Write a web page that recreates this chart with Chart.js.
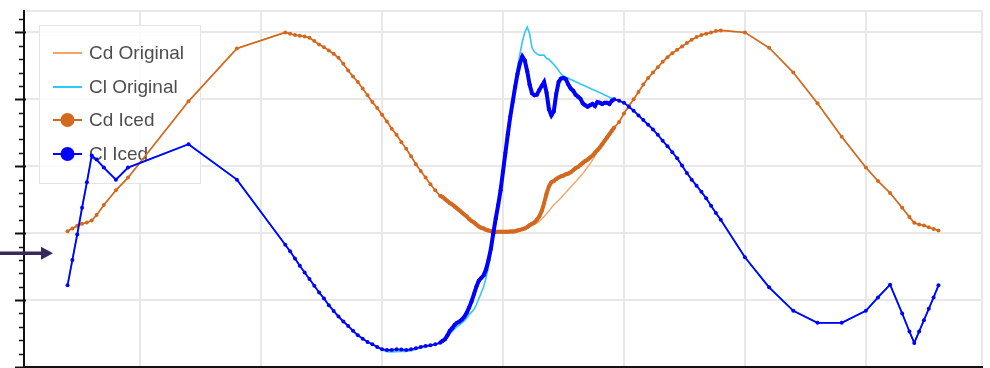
<!DOCTYPE html>
<html>
<head>
<meta charset="utf-8">
<script src="https://cdn.jsdelivr.net/npm/chart.js@4/dist/chart.umd.min.js"></script>
<style>
  html, body { margin: 0; padding: 0; background: #ffffff; }
  #wrap { width: 990px; height: 368px; position: relative; overflow: hidden; }
  #chart { display: block; }
</style>
</head>
<body>
<div id="wrap"><canvas id="chart" width="990" height="371"></canvas></div>
<script>
// Angle of attack (deg): sparse at the ends, 2-deg steps, 1-deg steps around stall
const alpha = [
  -180,-178,-176,-174,-172,-170,-168,-165,-160,-155,-130,-110,
  -90,-88,-86,-84,-82,-80,-78,-76,-74,-72,-70,-68,-66,-64,-62,-60,-58,-56,-54,-52,-50,-48,-46,-44,-42,-40,-38,-36,-34,-32,-30,-28,-26,
  -25,-24,-23,-22,-21,-20,-19,-18,-17,-16,-15,-14,-13,-12,-11,-10,-9,-8,-7,-6,-5,-4,-3,-2,-1,
  0,1,2,3,4,5,6,7,8,9,10,11,12,13,14,15,16,17,18,19,20,21,22,23,24,25,26,27,28,29,30,31,32,33,34,35,36,37,38,39,40,41,42,43,44,45,46,
  48,50,52,54,56,58,60,62,64,66,68,70,72,74,76,78,80,82,84,86,88,90,
  100,110,120,130,140,150,155,160,165,168,170,172,174,176,178,180
];

const cdOriginal = [
  0.015,0.035,0.055,0.07,0.08,0.095,0.135,0.21,0.32,0.415,0.985,1.38,
  1.50,1.49,1.48,1.475,1.47,1.46,1.435,1.41,1.39,1.365,1.34,1.31,1.265,1.215,1.17,1.13,1.08,1.03,0.98,0.935,0.885,0.835,0.78,0.735,0.68,0.63,0.575,0.515,0.465,0.415,0.365,0.32,0.28,
  0.27,0.255,0.24,0.225,0.215,0.20,0.185,0.17,0.155,0.14,0.125,0.105,0.09,0.08,0.065,0.05,0.04,0.035,0.025,0.02,0.015,0.012,0.01,0.01,0.01,
  0.01,0.01,0.01,0.012,0.013,0.015,0.02,0.025,0.03,0.035,0.04,0.048,0.056,0.065,0.075,0.088,0.105,0.125,0.145,0.165,0.19,0.21,0.228,0.245,0.265,0.285,0.305,0.325,0.345,0.365,0.385,0.405,0.425,0.445,0.47,0.495,0.52,0.545,0.575,0.61,0.64,0.665,0.69,0.715,0.74,0.765,0.79,
  0.83,0.895,0.95,1.00,1.055,1.11,1.16,1.20,1.24,1.28,1.315,1.345,1.37,1.395,1.42,1.445,1.465,1.48,1.49,1.50,1.51,1.515,
  1.50,1.385,1.20,0.97,0.72,0.49,0.39,0.30,0.19,0.12,0.077,0.065,0.058,0.045,0.032,0.02
];

const clOriginal = [
  -0.39,-0.20,-0.01,0.19,0.38,0.58,0.55,0.49,0.40,0.49,0.665,0.40,
  -0.086,-0.136,-0.189,-0.243,-0.294,-0.343,-0.393,-0.443,-0.488,-0.538,-0.581,-0.623,-0.66,-0.693,-0.73,-0.763,-0.788,-0.813,-0.83,-0.85,-0.872,-0.885,-0.888,-0.885,-0.884,-0.884,-0.878,-0.868,-0.856,-0.848,-0.842,-0.834,-0.822,
  -0.81,-0.80,-0.78,-0.755,-0.735,-0.715,-0.70,-0.685,-0.67,-0.655,-0.635,-0.61,-0.59,-0.57,-0.535,-0.49,-0.445,-0.40,-0.335,-0.25,-0.14,-0.02,0.10,0.21,0.33,
  0.48,0.63,0.77,0.90,1.02,1.13,1.24,1.34,1.43,1.50,1.54,1.49,1.385,1.355,1.34,1.33,1.33,1.33,1.305,1.30,1.28,1.26,1.24,1.215,1.19,1.175,1.165,1.157,1.148,1.14,1.132,1.124,1.115,1.107,1.099,1.09,1.082,1.074,1.066,1.058,1.05,1.042,1.033,1.025,1.016,1.008,1.0,
  0.99,0.975,0.945,0.915,0.88,0.845,0.81,0.775,0.735,0.69,0.65,0.605,0.56,0.505,0.45,0.40,0.355,0.31,0.26,0.205,0.15,0.10,
  -0.18,-0.405,-0.58,-0.67,-0.67,-0.58,-0.48,-0.385,-0.60,-0.735,-0.82,-0.735,-0.65,-0.565,-0.48,-0.39
];

const cdIced = [
  0.015,0.035,0.055,0.07,0.08,0.095,0.135,0.21,0.32,0.415,0.985,1.38,
  1.50,1.49,1.48,1.475,1.47,1.46,1.435,1.41,1.39,1.365,1.34,1.31,1.265,1.215,1.17,1.13,1.08,1.03,0.98,0.935,0.885,0.835,0.78,0.735,0.68,0.63,0.575,0.515,0.465,0.415,0.365,0.32,0.28,
  0.27,0.255,0.24,0.225,0.215,0.20,0.185,0.17,0.155,0.14,0.125,0.105,0.09,0.08,0.065,0.05,0.04,0.035,0.025,0.02,0.015,0.012,0.01,0.01,0.01,
  0.01,0.01,0.01,0.012,0.013,0.015,0.02,0.025,0.03,0.035,0.045,0.06,0.07,0.08,0.10,0.125,0.165,0.225,0.295,0.35,0.38,0.39,0.405,0.415,0.425,0.43,0.44,0.445,0.455,0.47,0.485,0.495,0.51,0.525,0.54,0.55,0.565,0.58,0.60,0.62,0.64,0.665,0.69,0.715,0.74,0.765,0.79,
  0.83,0.895,0.95,1.00,1.055,1.11,1.16,1.20,1.24,1.28,1.315,1.345,1.37,1.395,1.42,1.445,1.465,1.48,1.49,1.50,1.51,1.515,
  1.50,1.385,1.20,0.97,0.72,0.49,0.39,0.30,0.19,0.12,0.077,0.065,0.058,0.045,0.032,0.02
];

const clIced = [
  -0.39,-0.20,-0.01,0.19,0.38,0.58,0.55,0.49,0.40,0.49,0.665,0.40,
  -0.086,-0.136,-0.189,-0.243,-0.294,-0.343,-0.393,-0.443,-0.488,-0.538,-0.581,-0.623,-0.66,-0.693,-0.73,-0.763,-0.788,-0.813,-0.83,-0.85,-0.868,-0.873,-0.873,-0.868,-0.87,-0.873,-0.868,-0.86,-0.85,-0.843,-0.838,-0.83,-0.818,
  -0.805,-0.793,-0.765,-0.73,-0.71,-0.685,-0.67,-0.66,-0.645,-0.625,-0.595,-0.555,-0.51,-0.455,-0.40,-0.355,-0.335,-0.315,-0.27,-0.20,-0.115,0.0,0.11,0.21,0.32,
  0.46,0.60,0.74,0.87,0.98,1.09,1.19,1.27,1.32,1.29,1.21,1.11,1.045,1.03,1.035,1.07,1.10,1.13,1.05,0.925,0.88,0.91,1.04,1.13,1.155,1.16,1.15,1.11,1.08,1.065,1.035,1.02,1.005,0.97,0.955,0.945,0.955,0.965,0.95,0.98,0.975,0.965,0.975,0.975,0.965,0.99,1.00,
  0.99,0.975,0.945,0.915,0.88,0.845,0.81,0.775,0.735,0.69,0.65,0.605,0.56,0.505,0.45,0.40,0.355,0.31,0.26,0.205,0.15,0.10,
  -0.18,-0.405,-0.58,-0.67,-0.67,-0.58,-0.48,-0.385,-0.60,-0.735,-0.82,-0.735,-0.65,-0.565,-0.48,-0.39
];

// Axis ranges and grid positions
const xGridValues = [-198, -150, -100, -50, 0, 50, 100, 150, 198];
const yGridValues = [-1, -0.5, 0, 0.5, 1, 1.5, 1.66];
const yMinorStep = 0.1;
const arrowValue = -0.15;

const seriesNames = ['Cd Original', 'Cl Original', 'Cd Iced', 'Cl Iced'];
const seriesColors = ['#f5a468', '#30c8f6', '#d2691e', '#0000ff'];

const toPoints = (vals) => alpha.map((a, i) => ({ x: a, y: vals[i] }));

// Iced curves are sampled densely near stall; draw those stretches heavier
const denseWidth = (thin, thick) => (ctx) =>
  (ctx.p1.parsed.x - ctx.p0.parsed.x) <= 1.01 ? thick : thin;

const legendAndAxes = {
  id: 'legendAndAxes',
  beforeDatasetsDraw(chart) {
    const { ctx, chartArea } = chart;
    const bx = chartArea.left + 15, by = chartArea.top + 14;
    const bw = 161, bh = 158;
    ctx.save();
    ctx.fillStyle = 'rgba(255,255,255,0.8)';
    ctx.fillRect(bx, by, bw, bh);
    ctx.strokeStyle = '#e4e4e4';
    ctx.lineWidth = 1;
    ctx.strokeRect(bx + 0.5, by + 0.5, bw, bh);
    const rows = [28, 62, 95, 129];
    ctx.font = '19px "Liberation Sans", Arial, sans-serif';
    ctx.textBaseline = 'middle';
    seriesNames.forEach((name, i) => {
      const y = by + rows[i];
      ctx.strokeStyle = seriesColors[i];
      ctx.lineWidth = 2;
      ctx.beginPath();
      ctx.moveTo(bx + 14, y);
      ctx.lineTo(bx + 43, y);
      ctx.stroke();
      if (i >= 2) {
        ctx.fillStyle = seriesColors[i];
        ctx.beginPath();
        ctx.arc(bx + 28.5, y, 7, 0, Math.PI * 2);
        ctx.fill();
      }
      ctx.fillStyle = '#4e4e4e';
      ctx.fillText(name, bx + 50, y + 1);
    });
    ctx.restore();
  },
  afterDraw(chart) {
    const { ctx, chartArea } = chart;
    const xs = chart.scales.x, ys = chart.scales.y;
    ctx.save();
    ctx.strokeStyle = '#111';
    // major and minor ticks on the left axis
    for (let v = -1; v <= 1.66 + 1e-9; v += yMinorStep) {
      const r = Math.round(v * 10) / 10;
      const major = Math.abs(r * 2 - Math.round(r * 2)) < 1e-6;
      const py = Math.round(ys.getPixelForValue(r)) + 0.5;
      ctx.lineWidth = major ? 2 : 1.5;
      ctx.beginPath();
      ctx.moveTo(chartArea.left - (major ? 9 : 5), py);
      ctx.lineTo(chartArea.left + (major ? 2 : 1), py);
      ctx.stroke();
    }
    // ticks below the bottom axis
    ctx.lineWidth = 2;
    xGridValues.slice(1, -1).forEach(v => {
      const px = Math.round(xs.getPixelForValue(v));
      ctx.beginPath();
      ctx.moveTo(px, chartArea.bottom);
      ctx.lineTo(px, chartArea.bottom + 6);
      ctx.stroke();
    });
    // pointer arrow at the left edge
    const ay = ys.getPixelForValue(arrowValue);
    ctx.fillStyle = '#3a285c';
    ctx.fillRect(0, ay - 1.75, chartArea.left + 18, 3.5);
    ctx.beginPath();
    ctx.moveTo(chartArea.left + 17, ay - 6.5);
    ctx.lineTo(chartArea.left + 29, ay);
    ctx.lineTo(chartArea.left + 17, ay + 6.5);
    ctx.closePath();
    ctx.fill();
    ctx.restore();
  }
};

new Chart(document.getElementById('chart'), {
  type: 'line',
  data: {
    datasets: [
      {
        label: seriesNames[0], data: toPoints(cdOriginal), order: 3,
        borderColor: seriesColors[0], borderWidth: 1.4, pointRadius: 0
      },
      {
        label: seriesNames[1], data: toPoints(clOriginal), order: 2,
        borderColor: seriesColors[1], borderWidth: 1.6, pointRadius: 0
      },
      {
        label: seriesNames[2], data: toPoints(cdIced), order: 1,
        borderColor: seriesColors[2], backgroundColor: seriesColors[2], borderWidth: 1.6,
        pointRadius: 2, pointBorderWidth: 0, pointBackgroundColor: seriesColors[2],
        segment: { borderWidth: denseWidth(1.6, 4) }
      },
      {
        label: seriesNames[3], data: toPoints(clIced), order: 0,
        borderColor: seriesColors[3], backgroundColor: seriesColors[3], borderWidth: 1.8,
        pointRadius: 2, pointBorderWidth: 0, pointBackgroundColor: seriesColors[3],
        segment: { borderWidth: denseWidth(1.8, 4) }
      }
    ]
  },
  options: {
    responsive: false,
    animation: false,
    devicePixelRatio: 1,
    layout: { padding: { left: 24, top: 11, right: 8, bottom: 0 } },
    plugins: { legend: { display: false }, tooltip: { enabled: false } },
    scales: {
      x: {
        type: 'linear', min: -198, max: 198,
        afterBuildTicks: (s) => { s.ticks = xGridValues.map(v => ({ value: v })); },
        ticks: { display: false },
        grid: { color: '#e8e8e8', lineWidth: 2, drawTicks: false },
        border: { display: true, color: '#111', width: 2 }
      },
      y: {
        type: 'linear', min: -1, max: 1.66,
        afterBuildTicks: (s) => { s.ticks = yGridValues.map(v => ({ value: v })); },
        ticks: { display: false },
        grid: { color: '#e8e8e8', lineWidth: 2, drawTicks: false },
        border: { display: true, color: '#111', width: 2 }
      }
    }
  },
  plugins: [legendAndAxes]
});
</script>
</body>
</html>
